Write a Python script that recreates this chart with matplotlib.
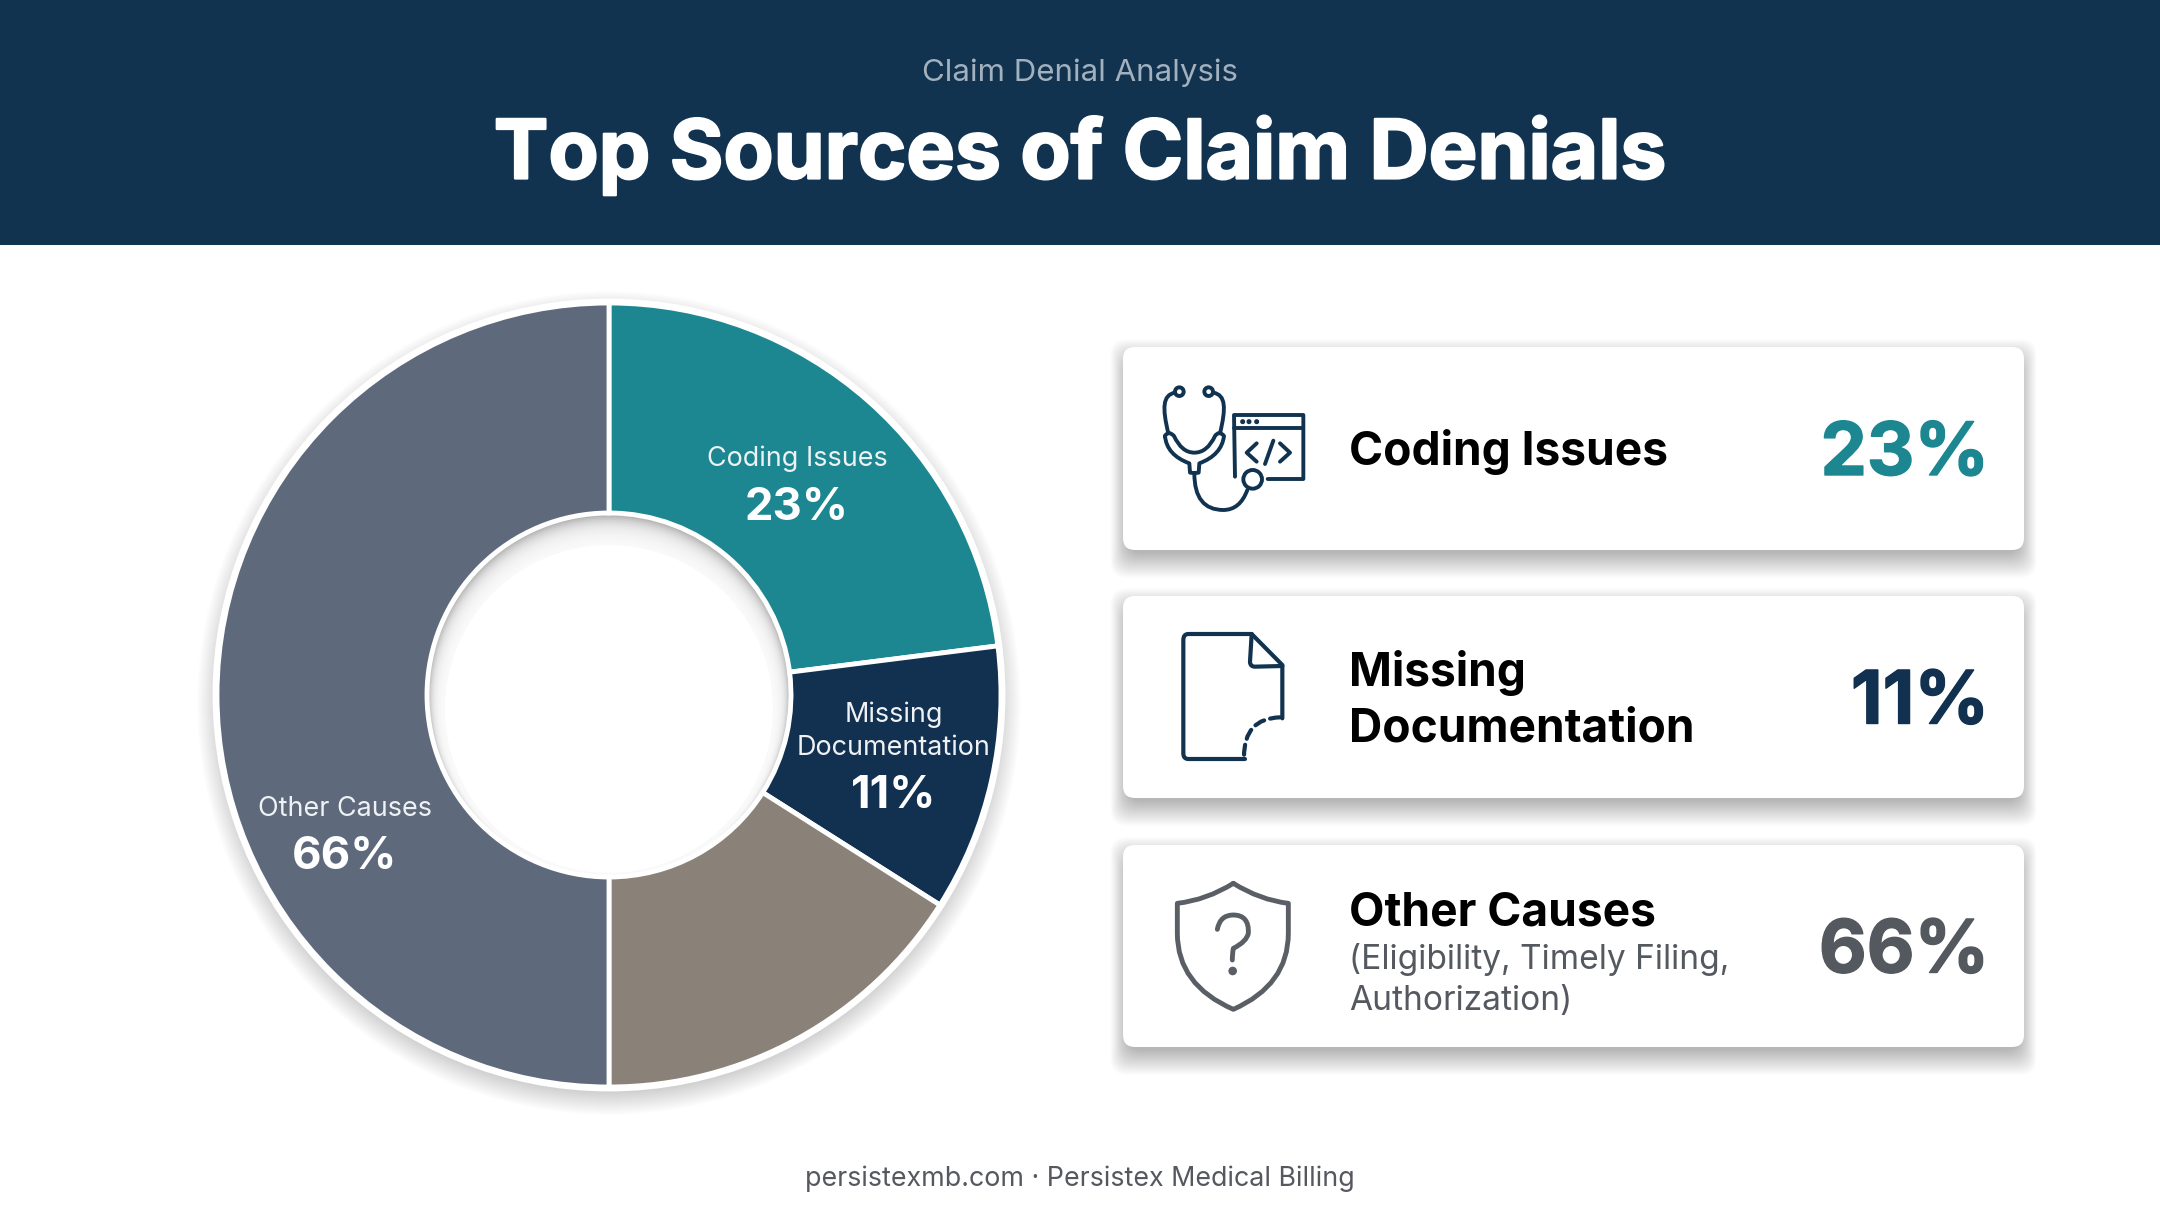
import matplotlib
matplotlib.use("Agg")
import matplotlib.pyplot as plt
import matplotlib.patheffects as pe
from matplotlib.patches import Rectangle, FancyBboxPatch, Circle, PathPatch
from matplotlib.path import Path

# datos del grafico
categories = ["Coding Issues", "Missing Documentation", "Other (brown)", "Other Causes"]
slice_values = [23, 11, 16, 50]
slice_colors = ["#1c8790", "#12304f", "#8a8279", "#5e6a7c"]

card_titles = ["Coding Issues", "Missing\nDocumentation", "Other Causes"]
card_percents = ["23%", "11%", "66%"]
card_colors = ["#1c8790", "#12304f", "#54585f"]

NAVY = "#113350"
FONT = "Inter"

W, H = 2160, 1206
fig = plt.figure(figsize=(W / 100, H / 100), dpi=100, facecolor="white")

# eje de fondo en pixeles
bg = fig.add_axes([0, 0, 1, 1])
bg.set_xlim(0, W)
bg.set_ylim(H, 0)
bg.axis("off")

heavy = [pe.withStroke(linewidth=1.6, foreground="white")]

bg.add_patch(Rectangle((0, 0), W, 245, color=NAVY, lw=0, zorder=1))
bg.text(1080, 73, "Claim Denial Analysis", color="#a3b1be", fontsize=22.5, family=FONT, ha="center", va="center")
bg.text(1080, 156, "Top Sources of Claim Denials", color="white", fontsize=59, family=FONT, weight="bold",
        ha="center", va="center", path_effects=heavy)
bg.text(1080, 1179, "persistexmb.com · Persistex Medical Billing", color="#55585e", fontsize=19.3, family=FONT, ha="center", va="center")

# sombra del donut
cx, cy, R, r_in = 609, 695, 392, 182
for i in range(28):
    bg.add_patch(Circle((cx, cy + 8), R + 20 - i, color="black", alpha=0.006, lw=0, zorder=2))

# agujero con sombra interior
bg.add_patch(Circle((cx, cy), r_in + 2, color="#a8a8a8", lw=0, zorder=2.2))
for i in range(20):
    bg.add_patch(Circle((cx, cy + 1 + i * 0.8), r_in - 1 - i * 0.8, color="white", alpha=0.16, lw=0, zorder=2.3))
bg.add_patch(Circle((cx, cy + 14), r_in - 18, color="white", lw=0, zorder=2.4))

# donut
pie_ax = fig.add_axes([(cx - R) / W, 1 - (cy + R) / H, 2 * R / W, 2 * R / H], zorder=3)
pie_ax.pie(slice_values, colors=slice_colors, startangle=90, counterclock=False, radius=1,
           wedgeprops=dict(width=1 - r_in / R, edgecolor="white", linewidth=3.5))
pie_ax.set_xlim(-1, 1)
pie_ax.set_ylim(-1, 1)

# texto encima del donut
top = fig.add_axes([0, 0, 1, 1], zorder=4)
top.set_xlim(0, W)
top.set_ylim(H, 0)
top.axis("off")
top.patch.set_alpha(0)

top.add_patch(Circle((cx, cy), R + 2, fill=False, ec="white", lw=3.5))

def donut_label(x, y_lines, y_pct, lines, pct):
    for yy, txt in zip(y_lines, lines):
        top.text(x, yy, txt, color="#eef2f4", fontsize=19.4, family=FONT, ha="center", va="center")
    top.text(x, y_pct, pct, color="white", fontsize=32.7, family=FONT, weight="bold", ha="center", va="center")

donut_label(797, [459], 508, ["Coding Issues"], "23%")
donut_label(894, [715, 748], 796, ["Missing", "Documentation"], "11%")
donut_label(345, [809], 857, ["Other Causes"], "66%")

# tarjetas
card_y = [(347, 550), (596, 798), (845, 1047)]
for (y0, y1), pct, col in zip(card_y, card_percents, card_colors):
    for i in range(36):
        e = 18 - i * 0.7
        bg.add_patch(FancyBboxPatch((1123 - 0.7 * e, y0 + 10 - e), 901 + 1.4 * e, y1 - y0 + 2 * e,
                                    boxstyle="round,pad=0,rounding_size=16", fc="black", ec="none", alpha=0.009, zorder=2))
    bg.add_patch(FancyBboxPatch((1123, y0), 901, y1 - y0, boxstyle="round,pad=0,rounding_size=12",
                                fc="white", ec="none", zorder=3))
    bg.text(1989, (y0 + y1) / 2 + 7, pct, color=col, fontsize=53, family=FONT, weight="bold", ha="right", va="center",
            path_effects=[pe.withStroke(linewidth=1.0, foreground=col)], zorder=5)

title_size = 33.2
bg.text(1349, 452, card_titles[0], color="black", fontsize=title_size, family=FONT, weight="bold", va="center", zorder=5)
bg.text(1349, 673, "Missing", color="black", fontsize=title_size, family=FONT, weight="bold", va="center", zorder=5)
bg.text(1349, 729, "Documentation", color="black", fontsize=title_size, family=FONT, weight="bold", va="center", zorder=5)
bg.text(1349, 913, card_titles[2], color="black", fontsize=title_size, family=FONT, weight="bold", va="center", zorder=5)
bg.text(1349, 960, "(Eligibility, Timely Filing,", color="#54585f", fontsize=24.1, family=FONT, va="center", zorder=5)
bg.text(1349, 1001, "Authorization)", color="#54585f", fontsize=24.1, family=FONT, va="center", zorder=5)

# iconos
M, L, C = Path.MOVETO, Path.LINETO, Path.CURVE3
C4 = Path.CURVE4
def stroke(pts, codes, color=NAVY, lw=3.0, ox=1100, oy=330, **kw):
    verts = [(ox + x / 3, oy + y / 3) for x, y in pts]
    bg.add_patch(PathPatch(Path(verts, codes), fc="none", ec=color, lw=lw, capstyle="round", joinstyle="round", zorder=6, **kw))

def ring(x, y, r, color=NAVY, lw=3.0, ox=1100, oy=330, fc="white"):
    bg.add_patch(Circle((ox + x / 3, oy + y / 3), r / 3, fc=fc, ec=color, lw=lw, zorder=6))

# estetoscopio
stroke([(225, 188), (187, 195), (187, 235), (205, 310)], [M, C4, C4, C4], lw=2.8)
stroke([(340, 188), (378, 195), (378, 235), (360, 310)], [M, C4, C4, C4], lw=2.8)
ring(238, 185, 13, lw=2.8)
ring(326, 185, 13, lw=2.8)
stroke([(195, 318), (205, 300), (222, 318), (245, 368), (283, 368), (322, 368), (345, 318), (358, 300), (372, 318),
        (365, 375), (298, 400), (296, 428), (283, 430), (270, 428), (268, 400), (200, 375), (195, 318)],
       [M, C, C, C, C, C, C, C, C, C, C, L, C, C, L, C, C], lw=2.8)
stroke([(283, 430), (283, 540), (370, 540), (420, 540), (442, 480)], [M, C, C, C, C], lw=2.8)
# ventana de codigo
stroke([(405, 440), (402, 255), (610, 255), (610, 447), (503, 447)], [M, L, L, L, L], lw=2.8)
stroke([(402, 295), (610, 295)], [M, L], lw=2.8)
for dx in (428, 447, 470):
    bg.add_patch(Circle((1100 + dx / 3, 330 + 275 / 3), 1.8, color=NAVY, zorder=6))
stroke([(470, 340), (440, 368), (470, 395)], [M, L, L], lw=2.8)
stroke([(520, 332), (495, 402)], [M, L], lw=2.8)
stroke([(540, 340), (570, 368), (540, 395)], [M, L, L], lw=2.8)
ring(458, 448, 28, lw=2.8)

# documento
stroke([(435, 507), (265, 507), (250, 507), (250, 490), (250, 150), (250, 132), (265, 132), (455, 132), (547, 225), (547, 385)],
       [M, L, C, C, L, C, C, L, L, L], oy=590)
stroke([(455, 132), (450, 215), (450, 230), (465, 230), (547, 228)], [M, L, C, C, L], oy=590)
bg.add_patch(PathPatch(Path([(1100 + x / 3, 590 + y / 3) for x, y in [(540, 382), (432, 385), (432, 500)]], [M, C, C]),
                       fc="none", ec=NAVY, lw=3.0, ls=(0, (2.4, 1.5)), capstyle="round", zorder=6))

# escudo
GREY = "#5a5f66"
stroke([(400, 880), (480, 930), (565, 940), (565, 1030), (565, 1185), (400, 1258), (232, 1185), (232, 1030), (232, 940), (320, 930), (400, 880)],
       [M, C, C, L, C, C, C, C, L, C, C], color=GREY, lw=3.5, oy=590)
stroke([(352, 1018), (360, 975), (400, 975), (448, 975), (445, 1030), (440, 1055), (400, 1075), (397, 1090), (397, 1110)],
       [M, C, C, C, C, C, C, C, C], color=GREY, lw=3.5, oy=590)
bg.add_patch(Circle((1100 + 398 / 3, 590 + 1143 / 3), 3.6, color=GREY, zorder=6))

fig.savefig("out.png", dpi=100)
